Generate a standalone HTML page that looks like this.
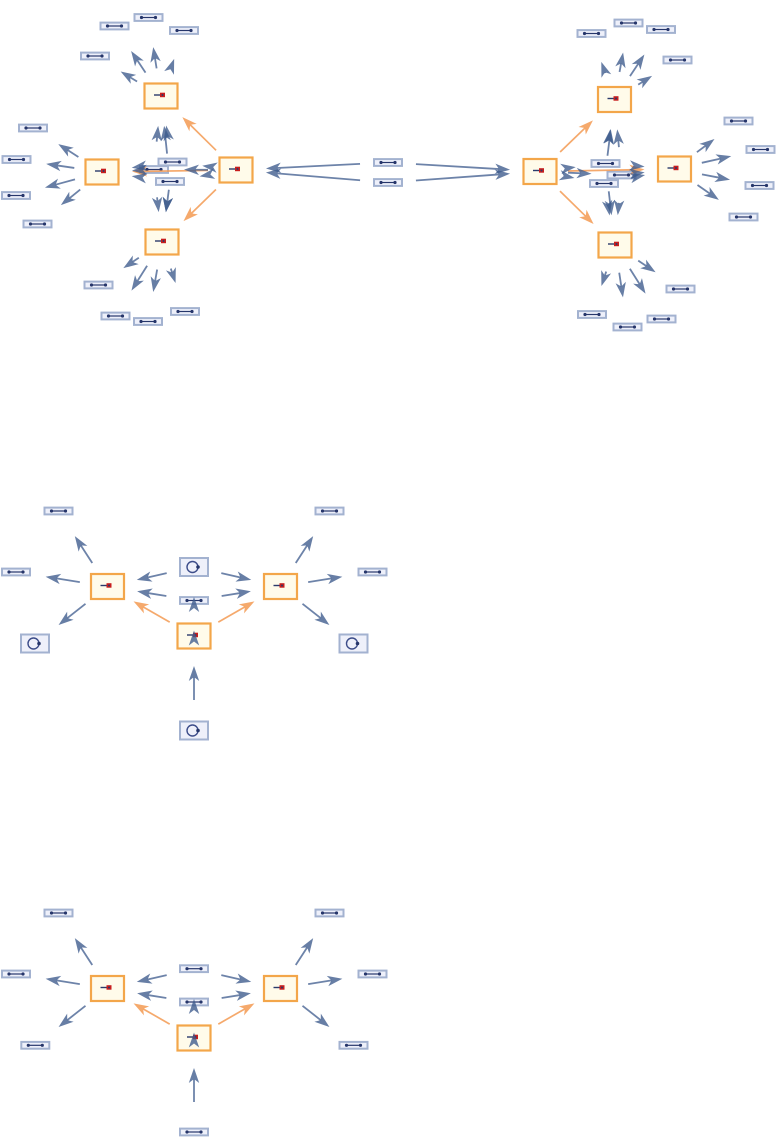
<!DOCTYPE html>
<html><head><meta charset="utf-8"><style>
html,body{margin:0;padding:0;background:#fff;}
svg{display:block;}
.b{stroke:#3c5a8c;stroke-opacity:.75;stroke-width:1.8;fill:none;marker-end:url(#ab);}
.s{stroke-opacity:0;}
.o{stroke:#f39a52;stroke-opacity:.85;stroke-width:1.7;fill:none;marker-end:url(#ao);}
</style></head><body>
<svg width="778" height="1146" viewBox="0 0 778 1146" xmlns="http://www.w3.org/2000/svg" xmlns:xlink="http://www.w3.org/1999/xlink">
<defs>
<marker id="ab" viewBox="0 -6 15 12" refX="4" refY="0" markerWidth="15" markerHeight="12" markerUnits="userSpaceOnUse" orient="auto" overflow="visible"><path d="M0,-5.2L15,0L0,5.2L4,0Z" fill="#3c5a8c" fill-opacity="0.78"/></marker>
<marker id="ao" viewBox="0 -6 15 12" refX="4" refY="0" markerWidth="15" markerHeight="12" markerUnits="userSpaceOnUse" orient="auto" overflow="visible"><path d="M0,-5.2L15,0L0,5.2L4,0Z" fill="#f39a52" fill-opacity="0.85"/></marker>
<g id="sn"><rect x="-14" y="-3.4" width="28" height="6.8" fill="#eef0fa" stroke="#a3b2d0" stroke-width="2"/><line x1="-7" y1="0" x2="7" y2="0" stroke="#26366b" stroke-width="1.2"/><circle cx="-7" cy="0" r="1.6" fill="#26366b"/><circle cx="7" cy="0" r="1.6" fill="#26366b"/></g>
<g id="cn"><rect x="-14" y="-9" width="28" height="18" fill="#eef0fa" stroke="#a3b2d0" stroke-width="2"/><circle cx="-1.5" cy="0" r="5.5" fill="none" stroke="#3d4d8a" stroke-width="1.4"/><circle cx="4" cy="0" r="1.8" fill="#26366b"/></g>
<g id="on"><rect x="-16.5" y="-12.5" width="33" height="25" fill="#fffbea" stroke="#f3a64a" stroke-width="2.2"/><line x1="-7" y1="-1" x2="-1" y2="-1" stroke="#2b3a6b" stroke-width="1.4"/><rect x="-1" y="-3.3" width="5" height="4.5" fill="#c81e1e"/><circle cx="1.5" cy="-1" r="1" fill="#2b3a6b"/></g>
</defs>

<!-- Graph 1 nodes -->
<use href="#on" x="236" y="170"/><use href="#on" x="161" y="96"/><use href="#on" x="102" y="172"/><use href="#on" x="162" y="242"/>
<use href="#sn" x="148.5" y="17.5"/><use href="#sn" x="114.5" y="26"/><use href="#sn" x="184" y="30.5"/><use href="#sn" x="95" y="56"/>
<use href="#sn" x="33" y="128"/><use href="#sn" x="16.5" y="159.5"/><use href="#sn" x="16" y="195.5"/><use href="#sn" x="37.5" y="224"/>
<use href="#sn" x="98.5" y="285"/><use href="#sn" x="115.5" y="316"/><use href="#sn" x="148" y="321.5"/><use href="#sn" x="185" y="311.5"/>
<use href="#sn" x="172.5" y="162"/><use href="#sn" x="154" y="169.5"/><use href="#sn" x="170" y="181.5"/>
<use href="#sn" x="388" y="162.5"/><use href="#sn" x="388" y="182.5"/>

<!-- Graph 2 nodes -->
<use href="#on" x="540" y="171.5"/><use href="#on" x="614.5" y="99.5"/><use href="#on" x="674.5" y="169"/><use href="#on" x="615" y="245"/>
<use href="#sn" x="591.5" y="33.5"/><use href="#sn" x="628.5" y="23"/><use href="#sn" x="661" y="29.5"/><use href="#sn" x="677.5" y="60"/>
<use href="#sn" x="738.5" y="121"/><use href="#sn" x="760.5" y="149.5"/><use href="#sn" x="759.5" y="185.5"/><use href="#sn" x="743.5" y="217"/>
<use href="#sn" x="680.5" y="289"/><use href="#sn" x="661.5" y="319"/><use href="#sn" x="627.5" y="327"/><use href="#sn" x="592" y="314.5"/>
<use href="#sn" x="605.5" y="163.5"/><use href="#sn" x="621.5" y="175"/><use href="#sn" x="604" y="183.5"/>

<!-- Graph 1 edges -->
<line class="o" x1="216.07" y1="150.33" x2="190.19" y2="124.79"/>
<line class="o" x1="215.93" y1="189.52" x2="191.39" y2="213.41"/>
<line class="o" x1="208" y1="170.42" x2="143" y2="171.39"/>
<line class="b s" x1="214.17" y1="167.25" x2="213.18" y2="167.13"/>
<line class="b" x1="208" y1="169.83" x2="195" y2="169.75"/>
<line class="b s" x1="211.37" y1="174.29" x2="210.39" y2="174.46"/>
<line class="b s" x1="168.21" y1="137.37" x2="168.04" y2="136.39"/>
<line class="b" x1="156.65" y1="141.63" x2="157.11" y2="136.82"/>
<line class="b" x1="167.07" y1="153.65" x2="165.29" y2="136.78"/>
<line class="b" x1="168.86" y1="189.76" x2="167.34" y2="201.35"/>
<line class="b" x1="157.07" y1="197.33" x2="157.5" y2="201.25"/>
<line class="b s" x1="167.51" y1="200.34" x2="167.37" y2="201.36"/>
<line class="b" x1="144.78" y1="165.93" x2="142.59" y2="166.24"/>
<line class="b s" x1="143.95" y1="169.98" x2="142.95" y2="170.03"/>
<line class="b s" x1="143.6" y1="177.81" x2="142.6" y2="177.67"/>
<line class="b" x1="156.6" y1="68.35" x2="154.95" y2="57.99"/>
<line class="b" x1="145.51" y1="72.68" x2="137.19" y2="60.15"/>
<line class="b s" x1="170.08" y1="70.13" x2="170.42" y2="69.19"/>
<line class="b" x1="137.05" y1="81.49" x2="130.06" y2="77.25"/>
<line class="b" x1="78.39" y1="156.95" x2="67.57" y2="150.04"/>
<line class="b" x1="74.29" y1="167.95" x2="57.07" y2="165.43"/>
<line class="b" x1="74.99" y1="179.38" x2="55.55" y2="184.69"/>
<line class="b" x1="80.2" y1="189.57" x2="69.42" y2="198.27"/>
<line class="b" x1="138.82" y1="257.7" x2="132.45" y2="262.01"/>
<line class="b" x1="147.1" y1="265.71" x2="137.32" y2="281.29"/>
<line class="b" x1="157.14" y1="269.58" x2="155.11" y2="281.12"/>
<line class="b" x1="170.8" y1="268.58" x2="172.12" y2="272.58"/>
<line class="b" x1="360.03" y1="163.88" x2="276.95" y2="167.98"/>
<line class="b" x1="360.09" y1="180.21" x2="276.86" y2="173.36"/>
<line class="b" x1="415.95" y1="164.16" x2="499.07" y2="169.08"/>
<line class="b" x1="415.93" y1="180.48" x2="499.11" y2="174.46"/>

<!-- Graph 2 edges -->
<line class="o" x1="560.13" y1="152.04" x2="585.02" y2="128"/>
<line class="o" x1="560" y1="191.1" x2="585.72" y2="216.3"/>
<line class="o" x1="568" y1="170.98" x2="633.5" y2="169.76"/>
<line class="b s" x1="563.81" y1="168.59" x2="564.8" y2="168.47"/>
<line class="b" x1="567.97" y1="172.7" x2="580.54" y2="173.24"/>
<line class="b s" x1="562.72" y1="175.76" x2="563.71" y2="175.95"/>
<line class="b s" x1="608.65" y1="141.09" x2="608.79" y2="140.1"/>
<line class="b" x1="618.92" y1="147.12" x2="618.29" y2="140.33"/>
<line class="b" x1="607.47" y1="155.72" x2="609.41" y2="140.19"/>
<line class="b" x1="608.74" y1="191.31" x2="610.25" y2="204.28"/>
<line class="b" x1="618.91" y1="202.88" x2="618.79" y2="204.17"/>
<line class="b s" x1="607.61" y1="203.66" x2="607.78" y2="204.64"/>
<line class="b s" x1="632.63" y1="165.66" x2="633.63" y2="165.74"/>
<line class="b s" x1="632.77" y1="173.72" x2="633.76" y2="173.61"/>
<line class="b" x1="631.43" y1="177.86" x2="634.34" y2="177.26"/>
<line class="b" x1="605.29" y1="73.06" x2="604.99" y2="72.22"/>
<line class="b" x1="619.54" y1="71.96" x2="621.12" y2="63.33"/>
<line class="b" x1="629.99" y1="76.18" x2="638.31" y2="63.65"/>
<line class="b" x1="638.22" y1="84.63" x2="642.76" y2="81.78"/>
<line class="b" x1="696.9" y1="152.2" x2="705.7" y2="145.6"/>
<line class="b" x1="701.81" y1="162.81" x2="720.51" y2="158.57"/>
<line class="b" x1="701.98" y1="174.34" x2="719.25" y2="177.69"/>
<line class="b" x1="697.49" y1="184.99" x2="709.84" y2="193.59"/>
<line class="b" x1="638.24" y1="260.61" x2="646.47" y2="266.14"/>
<line class="b" x1="629.9" y1="268.71" x2="639.68" y2="284.29"/>
<line class="b" x1="619.22" y1="272.68" x2="621.32" y2="286.47"/>
<line class="b" x1="606.2" y1="271.58" x2="604.88" y2="275.58"/>

<!-- Graph 3 -->
<g>
<use href="#on" x="107.5" y="586.5"/><use href="#on" x="280.5" y="586.5"/><use href="#on" x="194" y="636"/>
<use href="#sn" x="58.5" y="511"/><use href="#sn" x="16" y="572"/><use href="#cn" x="35" y="643.5"/>
<use href="#sn" x="329.5" y="511"/><use href="#sn" x="372.5" y="572"/><use href="#cn" x="353.5" y="643.5"/>
<use href="#cn" x="194" y="567"/><use href="#sn" x="194" y="600.5"/><use href="#cn" x="194" y="730.5"/>
</g>
<!-- Graph 4 -->
<g transform="translate(0,402)">
<use href="#on" x="107.5" y="586.5"/><use href="#on" x="280.5" y="586.5"/><use href="#on" x="194" y="636"/>
<use href="#sn" x="58.5" y="511"/><use href="#sn" x="16" y="572"/><use href="#sn" x="35.3" y="643.3"/>
<use href="#sn" x="329.5" y="511"/><use href="#sn" x="372.5" y="572"/><use href="#sn" x="353.5" y="643.3"/>
<use href="#sn" x="194" y="566.7"/><use href="#sn" x="194" y="600"/><use href="#sn" x="194" y="730"/>
</g>

<g>
<line class="o" x1="169.7" y1="622.09" x2="143.08" y2="606.86"/>
<line class="o" x1="218.3" y1="622.09" x2="244.92" y2="606.86"/>
<line class="b s" x1="194" y1="609" x2="194" y2="608"/>
<line class="b s" x1="194" y1="642.5" x2="194" y2="641.5"/>
<line class="b" x1="194" y1="700" x2="194" y2="677"/>
<line class="b" x1="166.69" y1="573.16" x2="147.5" y2="577.48"/>
<line class="b" x1="166.36" y1="596.03" x2="147.97" y2="593.05"/>
<line class="b" x1="221.31" y1="573.16" x2="240.5" y2="577.48"/>
<line class="b" x1="221.64" y1="596.03" x2="240.03" y2="593.05"/>
<line class="b" x1="92.26" y1="563.01" x2="80.82" y2="545.39"/>
<line class="b" x1="79.84" y1="582.12" x2="56.5" y2="578.42"/>
<line class="b" x1="85.49" y1="603.81" x2="67.23" y2="618.16"/>
<line class="b" x1="295.74" y1="563.01" x2="307.18" y2="545.39"/>
<line class="b" x1="308.16" y1="582.12" x2="331.5" y2="578.42"/>
<line class="b" x1="302.51" y1="603.81" x2="320.77" y2="618.16"/>
</g>
<g transform="translate(0,402)">
<line class="o" x1="169.7" y1="622.09" x2="143.08" y2="606.86"/>
<line class="o" x1="218.3" y1="622.09" x2="244.92" y2="606.86"/>
<line class="b s" x1="194" y1="609" x2="194" y2="608"/>
<line class="b s" x1="194" y1="642.5" x2="194" y2="641.5"/>
<line class="b" x1="194" y1="700" x2="194" y2="677"/>
<line class="b" x1="166.69" y1="573.16" x2="147.5" y2="577.48"/>
<line class="b" x1="166.36" y1="596.03" x2="147.97" y2="593.05"/>
<line class="b" x1="221.31" y1="573.16" x2="240.5" y2="577.48"/>
<line class="b" x1="221.64" y1="596.03" x2="240.03" y2="593.05"/>
<line class="b" x1="92.26" y1="563.01" x2="80.82" y2="545.39"/>
<line class="b" x1="79.84" y1="582.12" x2="56.5" y2="578.42"/>
<line class="b" x1="85.49" y1="603.81" x2="67.23" y2="618.16"/>
<line class="b" x1="295.74" y1="563.01" x2="307.18" y2="545.39"/>
<line class="b" x1="308.16" y1="582.12" x2="331.5" y2="578.42"/>
<line class="b" x1="302.51" y1="603.81" x2="320.77" y2="618.16"/>
</g>
</svg>
</body></html>
